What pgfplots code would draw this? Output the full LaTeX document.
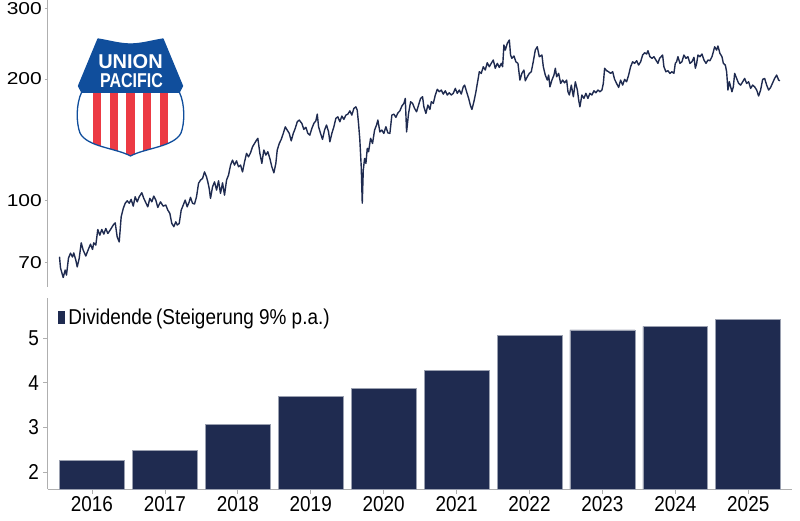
\documentclass[border=0pt]{standalone}
\usepackage{fontspec}
\setmainfont{Liberation Sans}
\newfontfamily\topfont{Liberation Sans}[FakeStretch=1.22]
\newfontfamily\botfont{Liberation Sans}[FakeStretch=0.88]
\usepackage{graphicx}
\usepackage{pgfplots}
\pgfplotsset{compat=1.18}
\definecolor{navy}{RGB}{31,43,80}
\definecolor{axgray}{RGB}{175,175,175}
\definecolor{upblue}{RGB}{16,78,156}
\definecolor{upred}{RGB}{236,58,68}
\begin{document}
\begin{tikzpicture}[x=1pt,y=1pt]
\path[use as bounding box] (0,0) rectangle (800,520);

% ---------------- top panel: share price (log scale) ----------------
\begin{axis}[
  at={(47.5pt,233pt)}, anchor=south west,
  scale only axis, width=744.5pt, height=287pt,
  xmin=2015.8355, xmax=2026.0455,
  ymode=log, ymin=60.8, ymax=314.5,
  axis x line=none, axis y line*=left,
  y axis line style={axgray,line width=0.8pt,-},
  ytick={70,100,200,300}, yticklabels={70,100,200,300},
  minor ytick={},
  tick align=outside, major tick length=3pt,
  major tick style={axgray,line width=0.8pt},
  yticklabel style={font=\topfont\fontsize{17.2}{18}\selectfont, inner sep=0pt, xshift=-2.5pt},
]
\addplot[navy, line width=1.4pt, line join=round] coordinates {
(2016.000,72.3)(2016.014,67.8)(2016.051,64.2)(2016.078,67.0)(2016.096,65.1)(2016.123,71.7)(2016.151,73.8)(2016.178,72.2)(2016.196,73.9)(2016.224,70.9)
(2016.243,68.2)(2016.270,71.6)(2016.298,78.3)(2016.325,75.1)(2016.361,72.6)(2016.388,74.8)(2016.425,77.7)(2016.453,75.4)(2016.470,78.3)(2016.498,77.3)
(2016.525,84.5)(2016.553,81.8)(2016.580,84.5)(2016.608,82.3)(2016.635,85.0)(2016.663,82.6)(2016.700,84.5)(2016.737,86.7)(2016.764,87.8)(2016.791,81.0)
(2016.819,78.7)(2016.846,90.9)(2016.874,95.3)(2016.901,98.2)(2016.929,99.6)(2016.956,98.2)(2016.983,100.4)(2017.011,96.6)(2017.038,101.9)(2017.066,99.0)
(2017.093,101.9)(2017.129,104.3)(2017.156,101.0)(2017.184,98.5)(2017.211,96.2)(2017.239,101.0)(2017.266,99.0)(2017.293,102.3)(2017.321,100.0)(2017.348,95.9)
(2017.385,99.0)(2017.422,96.6)(2017.458,97.2)(2017.486,94.4)(2017.513,92.7)(2017.540,87.5)(2017.568,85.9)(2017.595,88.3)(2017.615,86.7)(2017.642,87.5)
(2017.669,94.4)(2017.697,97.2)(2017.724,100.0)(2017.751,96.2)(2017.779,99.0)(2017.797,101.6)(2017.824,98.2)(2017.852,97.8)(2017.879,101.9)(2017.907,110.1)
(2017.934,112.1)(2017.962,113.2)(2017.989,117.5)(2018.016,114.3)(2018.034,111.0)(2018.053,106.9)(2018.071,101.0)(2018.099,107.9)(2018.126,111.0)(2018.154,105.9)
(2018.181,111.7)(2018.208,103.9)(2018.236,110.4)(2018.263,102.9)(2018.291,112.1)(2018.318,115.4)(2018.346,122.2)(2018.373,125.7)(2018.400,122.2)(2018.428,125.2)
(2018.455,121.0)(2018.483,122.2)(2018.510,117.5)(2018.538,124.5)(2018.565,130.7)(2018.592,128.1)(2018.620,131.1)(2018.647,135.7)(2018.675,138.3)(2018.702,141.0)
(2018.720,142.4)(2018.748,130.7)(2018.775,123.4)(2018.802,133.2)(2018.830,129.4)(2018.857,131.9)(2018.885,126.9)(2018.912,121.0)(2018.940,116.9)(2018.967,123.4)
(2018.986,133.2)(2019.014,138.3)(2019.041,141.6)(2019.069,146.5)(2019.096,152.1)(2019.123,149.3)(2019.151,146.5)(2019.178,140.4)(2019.206,146.5)(2019.233,150.8)
(2019.261,156.6)(2019.288,158.1)(2019.324,155.1)(2019.351,149.9)(2019.379,151.7)(2019.406,146.5)(2019.433,145.1)(2019.461,150.8)(2019.488,155.1)(2019.516,157.5)
(2019.535,163.6)(2019.553,152.2)(2019.580,146.5)(2019.607,141.6)(2019.635,149.3)(2019.662,153.7)(2019.690,147.8)(2019.708,139.6)(2019.735,146.5)(2019.763,152.2)
(2019.790,159.7)(2019.817,161.1)(2019.845,156.6)(2019.872,161.8)(2019.900,158.7)(2019.927,162.7)(2019.955,163.6)(2019.982,166.7)(2020.009,162.7)(2020.037,169.0)
(2020.064,170.6)(2020.083,167.4)(2020.101,155.1)(2020.119,141.0)(2020.138,121.0)(2020.152,98.2)(2020.166,118.7)(2020.184,126.9)(2020.202,123.4)(2020.221,134.5)
(2020.239,131.9)(2020.266,142.4)(2020.293,138.3)(2020.321,149.3)(2020.348,153.7)(2020.366,158.1)(2020.394,147.8)(2020.421,149.3)(2020.448,146.5)(2020.476,152.2)
(2020.503,147.0)(2020.531,146.5)(2020.558,162.7)(2020.586,163.6)(2020.613,160.6)(2020.641,164.8)(2020.668,166.7)(2020.695,171.3)(2020.723,174.0)(2020.742,179.0)
(2020.760,147.8)(2020.787,164.3)(2020.815,175.6)(2020.842,174.0)(2020.870,169.0)(2020.897,165.8)(2020.924,172.3)(2020.952,179.0)(2020.979,180.7)(2020.997,170.6)
(2021.025,164.3)(2021.052,172.3)(2021.080,168.1)(2021.099,175.6)(2021.126,174.0)(2021.154,182.5)(2021.181,188.6)(2021.208,186.0)(2021.236,187.8)(2021.263,183.5)
(2021.291,187.0)(2021.318,182.5)(2021.345,184.9)(2021.373,182.5)(2021.400,184.3)(2021.428,189.6)(2021.455,184.3)(2021.483,187.8)(2021.510,183.5)(2021.537,191.3)
(2021.556,193.2)(2021.583,186.0)(2021.611,179.0)(2021.638,171.3)(2021.656,168.1)(2021.683,175.6)(2021.711,186.0)(2021.738,198.8)(2021.757,208.5)(2021.784,206.6)
(2021.812,214.6)(2021.839,210.6)(2021.866,219.6)(2021.894,214.6)(2021.921,218.8)(2021.949,223.0)(2021.976,212.7)(2022.004,218.8)(2022.031,213.8)(2022.059,218.8)
(2022.077,214.6)(2022.095,243.0)(2022.114,236.1)(2022.141,245.4)(2022.169,250.0)(2022.186,229.5)(2022.204,225.2)(2022.232,228.2)(2022.259,220.8)(2022.287,218.8)
(2022.314,198.8)(2022.341,206.6)(2022.369,210.6)(2022.388,198.0)(2022.415,202.6)(2022.443,206.6)(2022.470,208.5)(2022.497,220.8)(2022.525,236.1)(2022.552,240.6)
(2022.580,227.3)(2022.616,229.5)(2022.635,214.6)(2022.662,204.6)(2022.690,198.8)(2022.708,204.6)(2022.726,191.3)(2022.753,198.8)(2022.781,204.6)(2022.800,212.7)
(2022.818,202.6)(2022.845,206.6)(2022.873,195.1)(2022.900,198.8)(2022.927,195.7)(2022.955,198.8)(2022.973,186.0)(2022.992,182.5)(2023.019,193.2)(2023.047,180.7)
(2023.074,196.9)(2023.102,187.8)(2023.120,177.3)(2023.137,170.6)(2023.164,182.5)(2023.192,179.0)(2023.219,184.3)(2023.247,179.0)(2023.274,184.3)(2023.301,182.5)
(2023.329,187.0)(2023.356,184.9)(2023.384,187.8)(2023.411,186.0)(2023.439,187.8)(2023.458,195.1)(2023.476,212.7)(2023.503,209.8)(2023.531,208.5)(2023.558,206.6)
(2023.586,208.5)(2023.613,199.6)(2023.640,195.1)(2023.668,190.6)(2023.695,198.8)(2023.723,193.2)(2023.750,199.6)(2023.777,196.9)(2023.805,204.6)(2023.832,214.6)
(2023.860,220.8)(2023.887,218.8)(2023.915,222.1)(2023.942,216.7)(2023.970,220.8)(2023.997,229.5)(2024.025,232.5)(2024.052,230.8)(2024.070,235.2)(2024.097,227.3)
(2024.125,225.2)(2024.152,227.3)(2024.179,223.0)(2024.207,218.8)(2024.230,225.2)(2024.271,229.5)(2024.289,214.6)(2024.316,208.5)(2024.344,209.8)(2024.371,206.6)
(2024.399,208.5)(2024.426,206.6)(2024.445,218.8)(2024.463,220.8)(2024.481,227.3)(2024.509,218.8)(2024.536,220.8)(2024.563,229.5)(2024.591,225.2)(2024.618,227.3)
(2024.646,218.8)(2024.673,220.8)(2024.701,226.5)(2024.720,212.7)(2024.738,218.8)(2024.756,229.5)(2024.783,227.3)(2024.811,230.8)(2024.838,223.0)(2024.866,218.8)
(2024.893,223.0)(2024.920,222.1)(2024.948,227.3)(2024.967,233.8)(2024.985,240.6)(2025.012,236.1)(2025.030,241.6)(2025.057,231.7)(2025.085,227.3)(2025.104,218.8)
(2025.131,216.7)(2025.149,208.5)(2025.167,187.8)(2025.186,196.9)(2025.204,191.3)(2025.222,186.0)(2025.241,191.3)(2025.259,206.6)(2025.286,200.7)(2025.314,195.1)
(2025.341,193.2)(2025.369,196.9)(2025.396,200.7)(2025.423,195.1)(2025.451,196.9)(2025.478,189.6)(2025.506,193.2)(2025.533,191.3)(2025.561,187.8)(2025.588,181.5)
(2025.615,187.8)(2025.643,199.6)(2025.670,200.7)(2025.698,193.2)(2025.725,187.8)(2025.752,190.6)(2025.780,195.7)(2025.807,200.7)(2025.835,204.6)(2025.862,198.8)
(2025.880,198.0)
};
\end{axis}

% ---------------- bottom panel: dividend bars ----------------
\begin{axis}[
  at={(47.5pt,31pt)}, anchor=south west,
  scale only axis, width=744.5pt, height=191pt,
  xmin=-0.61, xmax=9.6, ymin=1.627, ymax=5.893,
  axis lines*=left, axis line style={axgray,line width=0.8pt,-},
  ybar, bar width=0.891,
  xtick={0,1,2,3,4,5,6,7,8,9},
  xticklabels={2016,2017,2018,2019,2020,2021,2022,2023,2024,2025},
  ytick={2,3,4,5}, yticklabels={2,3,4,5},
  tick align=outside, major tick length=4.5pt,
  major tick style={axgray,line width=0.8pt},
  ticklabel style={font=\botfont\fontsize{21.5}{24}\selectfont, inner sep=0pt},
  yticklabel style={xshift=-4pt},
  xticklabel style={yshift=-3pt},
  legend style={at={(rel axis cs:0.0141,0.9005)}, anchor=west, draw=none, fill=none,
    font=\botfont\fontsize{21.5}{24}\selectfont, inner sep=0pt, column sep=4pt,
    nodes={inner sep=0pt}},
  legend image code/.code={\fill[navy] (0pt,-6pt) rectangle (5.5pt,6pt);},
]
\addplot[fill=navy, draw=navy!45!white, line width=0.7pt] coordinates {
(0,2.26)(1,2.48)(2,3.06)(3,3.69)(4,3.87)(5,4.28)(6,5.06)(7,5.18)(8,5.26)(9,5.42)
};
\addlegendentry{Dividende\,(Steigerung 9\% p.a.)}
\end{axis}

% ---------------- Union Pacific shield ----------------
\begin{scope}[x=1pt,y=-1pt,yshift=520pt]
  \begin{scope}
    \clip (81.7,92) -- (179.3,92) .. controls (185.5,105) and (184.5,124) .. (181,133)
      .. controls (174,147) and (145,148) .. (130.5,156)
      .. controls (116,148) and (87,147) .. (80,133)
      .. controls (76.5,124) and (75.5,105) .. (81.7,92) -- cycle;
    \fill[white] (70,90) rectangle (190,160);
    \foreach \c in {97.2,113.8,130.5,147.2,163.8}{
      \fill[upred] (\c-4.2,88) rectangle (\c+4.2,160);
    }
  \end{scope}
  \fill[upblue] (78.5,86) -- (98,39) .. controls (110,41) and (120,44) .. (130.5,44)
     .. controls (141,44) and (151,41) .. (163,39) -- (182.5,86) -- (179.3,93) -- (81.7,93) -- cycle;
  \draw[upblue, line width=1.3pt, line join=round]
     (98,39) .. controls (110,41) and (120,44) .. (130.5,44)
     .. controls (141,44) and (151,41) .. (163,39) -- (182.5,86) -- (179.3,92)
     .. controls (185.5,105) and (184.5,124) .. (181,133)
     .. controls (174,147) and (145,148) .. (130.5,156)
     .. controls (116,148) and (87,147) .. (80,133)
     .. controls (76.5,124) and (75.5,105) .. (81.7,92) -- (78.5,86) -- cycle;
  \node[white, inner sep=0pt] at (130.5,61.5) {\fontsize{20}{21}\selectfont\bfseries UNION};
  \node[white, inner sep=0pt] at (131.5,80.5) {\fontsize{20}{21}\selectfont\bfseries\scalebox{0.8}[1]{PACIFIC}};
\end{scope}
\end{tikzpicture}
\end{document}
